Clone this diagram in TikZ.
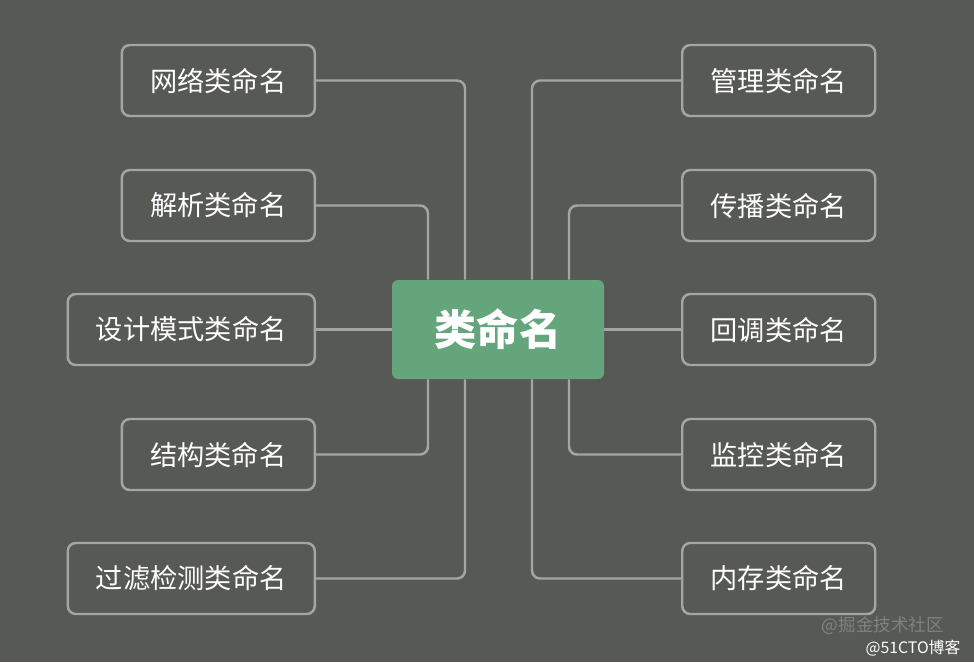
\documentclass[tikz,border=0pt]{standalone}
\usepackage{fontspec}
\newfontfamily\cjk{Noto Sans CJK SC}
\definecolor{bgcol}{RGB}{87,89,85}
\definecolor{linecol}{RGB}{165,166,163}
\definecolor{rootcol}{RGB}{101,165,123}
\definecolor{markcol}{RGB}{128,130,126}
\begin{document}
\begin{tikzpicture}[
  leaf/.style={draw=linecol, line width=1.4pt, rounded corners=0.16cm,
    minimum width=3.86cm, minimum height=1.42cm, text=white,
    font=\cjk\fontsize{15.5}{18}\selectfont},
  wideleaf/.style={leaf, minimum width=4.94cm},
  root/.style={fill=rootcol, rounded corners=0.12cm, minimum width=4.24cm,
    minimum height=1.98cm, text=white, font=\cjk\bfseries\fontsize{24}{28}\selectfont},
  link/.style={draw=linecol, line width=1.4pt, rounded corners=0.16cm}]
  \fill[bgcol] (0,0) rectangle (19.48,-13.24);
  \useasboundingbox (0,0) rectangle (19.48,-13.24);
  \node[root] (cls) at (9.96,-6.59) {类命名};
  % left side
  \node[leaf, anchor=east] (net) at (6.32,-1.61) {网络类命名};
  \node[leaf, anchor=east] (parse) at (6.32,-4.11) {解析类命名};
  \node[wideleaf, anchor=east] (pattern) at (6.32,-6.59) {设计模式类命名};
  \node[leaf, anchor=east] (struct) at (6.32,-9.09) {结构类命名};
  \node[wideleaf, anchor=east] (filter) at (6.32,-11.57) {过滤检测类命名};
  % right side
  \node[leaf, anchor=west] (manage) at (13.62,-1.61) {管理类命名};
  \node[leaf, anchor=west] (spread) at (13.62,-4.11) {传播类命名};
  \node[leaf, anchor=west] (callback) at (13.62,-6.59) {回调类命名};
  \node[leaf, anchor=west] (monitor) at (13.62,-9.09) {监控类命名};
  \node[leaf, anchor=west] (memory) at (13.62,-11.57) {内存类命名};
  % attach points on the root
  \coordinate (nw1) at ([xshift=-0.66cm]cls.north);
  \coordinate (nw2) at ([xshift=-1.4cm]cls.north);
  \coordinate (ne1) at ([xshift=0.68cm]cls.north);
  \coordinate (ne2) at ([xshift=1.42cm]cls.north);
  \coordinate (sw1) at ([xshift=-0.66cm]cls.south);
  \coordinate (sw2) at ([xshift=-1.4cm]cls.south);
  \coordinate (se1) at ([xshift=0.68cm]cls.south);
  \coordinate (se2) at ([xshift=1.42cm]cls.south);
  \draw[link] (net.east) -| (nw1);
  \draw[link] (parse.east) -| (nw2);
  \draw[link] (pattern.east) -- (cls.west);
  \draw[link] (sw2) |- (struct.east);
  \draw[link] (sw1) |- (filter.east);
  \draw[link] (manage.west) -| (ne1);
  \draw[link] (spread.west) -| (ne2);
  \draw[link] (cls.east) -- (callback.west);
  \draw[link] (se2) |- (monitor.west);
  \draw[link] (se1) |- (memory.west);
  % watermarks
  \node[text=markcol, font=\cjk\fontsize{10}{12}\selectfont] (mark1) at (17.66,-12.52) {@掘金技术社区};
  \node[text=white, font=\cjk\fontsize{9}{11}\selectfont] (mark2) at (18.26,-12.96) {@51CTO博客};
\end{tikzpicture}
\end{document}
